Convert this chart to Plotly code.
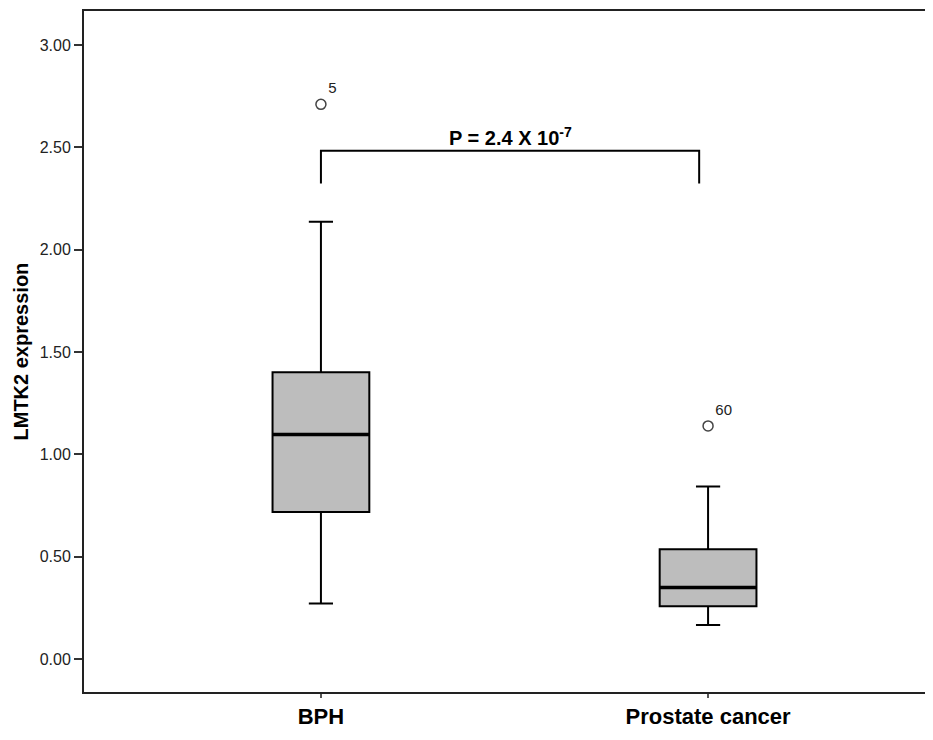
import plotly.graph_objects as go

groups = ["BPH", "Prostate cancer"]
group_pos = [0, 1]
q1 = [0.718, 0.258]
median = [1.097, 0.349]
q3 = [1.401, 0.536]
lower_whisker = [0.271, 0.166]
upper_whisker = [2.136, 0.843]

outlier_pos = [0, 1]
outlier_value = [2.71, 1.139]
outlier_label = ["5", "60"]

bracket_low = 2.323
bracket_high = 2.483
bracket_end = 0.977
p_text = "P = 2.4 X 10<sup>-7</sup>"

y_ticks = [0.0, 0.5, 1.0, 1.5, 2.0, 2.5, 3.0]

font = "Liberation Sans, Arial, sans-serif"
box_w = 0.25

fig = go.Figure()
fig.add_trace(go.Box(
    x=group_pos, q1=q1, median=median, q3=q3,
    lowerfence=lower_whisker, upperfence=upper_whisker,
    width=box_w, whiskerwidth=0.25,
    fillcolor="#bdbdbd", line=dict(color="black", width=2),
    boxpoints=False, showlegend=False, hoverinfo="skip",
))
# thick median lines
for p, m in zip(group_pos, median):
    fig.add_shape(type="line", xref="x", yref="y",
                  x0=p - box_w / 2, x1=p + box_w / 2, y0=m, y1=m,
                  line=dict(color="black", width=3.5))

fig.add_trace(go.Scatter(
    x=outlier_pos, y=outlier_value, mode="markers+text",
    marker=dict(symbol="circle-open", size=10, color="#444", line=dict(width=1.5)),
    text=outlier_label, textposition="top right",
    textfont=dict(family=font, size=15, color="#222"),
    showlegend=False, hoverinfo="skip",
))

fig.add_trace(go.Scatter(
    x=[group_pos[0], group_pos[0], bracket_end, bracket_end],
    y=[bracket_low, bracket_high, bracket_high, bracket_low],
    mode="lines", line=dict(color="black", width=2),
    showlegend=False, hoverinfo="skip",
))
fig.add_annotation(x=bracket_end / 2, y=bracket_high, xref="x", yref="y",
                   text="<b>" + p_text + "</b>", showarrow=False, yanchor="bottom",
                   yshift=0, font=dict(family=font, size=20, color="black"))

fig.add_annotation(x=0, y=0.5, xref="paper", yref="paper", xshift=-64,
                   text="<b>LMTK2 expression</b>", textangle=-90, showarrow=False,
                   xanchor="center", yanchor="middle",
                   font=dict(family=font, size=20, color="black"))

fig.update_layout(
    width=925, height=724,
    margin=dict(l=76, r=0, t=3, b=40),
    plot_bgcolor="white", paper_bgcolor="white",
    font=dict(family=font, color="black"),
)
fig.update_xaxes(
    range=[-0.612, 1.581], automargin=False,
    showline=True, linecolor="#222", linewidth=2, mirror=True,
    ticks="outside", ticklen=4, tickcolor="#555", tickwidth=2,
    tickfont=dict(family=font, size=22, color="black"),
    tickvals=group_pos, ticktext=["<b>" + g + "</b>" for g in groups],
    showgrid=False, zeroline=False,
)
fig.update_yaxes(
    range=[-0.161, 3.166], automargin=False,
    tickvals=y_ticks, ticktext=[f"{v:.2f}" for v in y_ticks],
    showline=True, linecolor="#222", linewidth=2,
    ticks="outside", ticklen=8, tickcolor="#333", tickwidth=2,
    tickfont=dict(family=font, size=16, color="#222"),
    showgrid=False, zeroline=False,
)

fig.write_html("out.html")
